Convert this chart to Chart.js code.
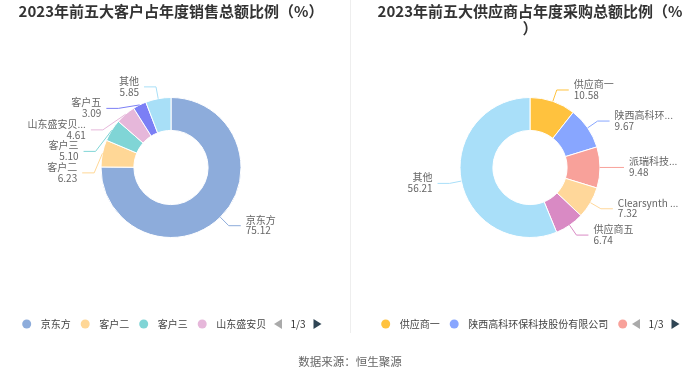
<!DOCTYPE html>
<html><head><meta charset="utf-8">
<script src="https://cdn.jsdelivr.net/npm/chart.js@4.4.1/dist/chart.umd.min.js"></script>
<style>
html,body{margin:0;padding:0;background:#fff;}
#wrap{position:relative;width:700px;height:377px;overflow:hidden;background:#fff;}
#c1{position:absolute;left:0;top:0;}
#c2{position:absolute;left:360px;top:0;}
#sep{position:absolute;left:350px;top:0;width:1px;height:333px;background:#eeeeee;}
#src{position:absolute;left:0;width:700px;top:353px;text-align:center;font-size:11.5px;line-height:16px;font-family:"Noto Sans CJK SC","Noto Sans",sans-serif;color:#666;}
</style></head>
<body>
<div id="wrap">
<canvas id="c1" width="342" height="377"></canvas>
<div id="sep"></div>
<canvas id="c2" width="340" height="377"></canvas>
<div id="src">数据来源：恒生聚源</div>
</div>
<script>
// ---------- data ----------
const customerTitle = ['2023年前五大客户占年度销售总额比例（%）'];
const customerLabels = ['京东方', '客户二', '客户三', '山东盛安贝...', '客户五', '其他'];
const customerValues = [75.12, 6.23, 5.10, 4.61, 3.09, 5.85];
const customerColors = ['#8dacdb', '#ffd796', '#80d5d6', '#e6b7da', '#7b7ff5', '#a8dff7'];

const supplierTitle = ['2023年前五大供应商占年度采购总额比例（%', '）'];
const supplierLabels = ['供应商一', '陕西高科环保科技股份有限公司', '派瑞科技...', 'Clearsynth ...', '供应商五', '其他'];
const supplierValues = [10.58, 9.67, 9.48, 7.32, 6.74, 56.21];
const supplierColors = ['#ffc23e', '#88a6ff', '#f8a19a', '#ffd79a', '#d98ac4', '#a9dff9'];

const pagerText = '1/3';

// ---------- styles ----------
const FONT = '"Noto Sans CJK SC","Noto Sans",sans-serif';
const LEN1 = 12, LEN2 = 12, GAP = 5, LINE_H = 10.75;

function fitText(ctx, text, maxW) {
  if (ctx.measureText(text).width <= maxW) return text;
  let t = text.replace(/\.\.\.$/, '');
  while (t.length > 1 && ctx.measureText(t + '...').width > maxW) t = t.slice(0, -1);
  return t + '...';
}

const piePlugin = {
  id: 'pieDecor',
  afterDatasetsDraw(chart, args, opts) {
    const ctx = chart.ctx;
    const W = chart.width;
    const meta = chart.getDatasetMeta(0);
    const ds = chart.data.datasets[0];
    const labels = chart.data.labels;
    const items = meta.data.map((arc, i) => {
      const p = arc.getProps(['x', 'y', 'startAngle', 'endAngle', 'outerRadius'], true);
      const mid = (p.startAngle + p.endAngle) / 2;
      const c = Math.cos(mid), s = Math.sin(mid);
      const r = p.outerRadius;
      const dir = c < 0 ? -1 : 1;
      const x2 = p.x + (r + LEN1) * c, y2 = p.y + (r + LEN1) * s;
      const x3 = x2 + dir * LEN2;
      return { i, cx: p.x, cy: p.y, r, dir,
        x1: p.x + r * c, y1: p.y + r * s, x2, y2,
        lx: x3 + dir * GAP, ly: y2 };
    });
    // overlap avoidance per side (push downward)
    [-1, 1].forEach(side => {
      const list = items.filter(d => d.dir === side).sort((a, b) => a.ly - b.ly);
      let adjusted = false;
      for (let k = 1; k < list.length; k++) {
        if (list[k].ly < list[k - 1].ly + 2 * LINE_H) {
          list[k].ly = list[k - 1].ly + 2 * LINE_H;
          adjusted = true;
        }
      }
      if (adjusted) {
        const semis = [{ list: [], maxY: 0, rB: 0 }, { list: [], maxY: 0, rB: 0 }];
        list.forEach(it => {
          const semi = it.ly > it.cy ? semis[1] : semis[0];
          const dy = Math.abs(it.ly - it.cy);
          if (dy >= semi.maxY) {
            const dx = it.lx - it.cx - LEN2 * side;
            const rA = it.r + LEN1;
            semi.rB = Math.abs(dx) < rA ? Math.sqrt(dy * dy / (1 - dx * dx / rA / rA)) : rA;
            semi.maxY = dy;
          }
          semi.list.push(it);
        });
        semis.forEach(semi => {
          semi.list.forEach(it => {
            const dy = Math.abs(it.ly - it.cy);
            const rA = it.r + LEN1;
            const dx = Math.sqrt(Math.max(0, 1 - dy * dy / (semi.rB * semi.rB)) * rA * rA);
            it.lx = it.cx + (dx + LEN2) * side;
          });
        });
      }
    });
    ctx.save();
    ctx.font = '10px ' + FONT;
    ctx.textBaseline = 'middle';
    items.forEach(it => {
      const color = ds.backgroundColor[it.i];
      const p2x = it.lx - it.dir * GAP;
      const p1x = p2x - it.dir * LEN2;
      ctx.strokeStyle = color;
      ctx.lineWidth = 1;
      ctx.beginPath();
      ctx.moveTo(it.x1, it.y1);
      ctx.lineTo(p1x, it.ly);
      ctx.lineTo(p2x, it.ly);
      ctx.stroke();
      ctx.fillStyle = '#666';
      ctx.textAlign = it.dir < 0 ? 'right' : 'left';
      const maxW = it.dir < 0 ? it.lx - 20 : (W - 20) - it.lx;
      const name = fitText(ctx, labels[it.i], maxW);
      ctx.fillText(name, it.lx, it.ly - LINE_H / 2 - 0.5);
      ctx.fillText(ds.data[it.i].toFixed(2), it.lx, it.ly + LINE_H / 2 - 0.5);
    });
    ctx.restore();
  },
  afterDraw(chart, args, opts) {
    const ctx = chart.ctx;
    const W = chart.width;
    // title
    ctx.save();
    ctx.font = 'bold 15px ' + FONT;
    ctx.fillStyle = '#333';
    ctx.textAlign = 'center';
    ctx.textBaseline = 'middle';
    opts.title.forEach((line, k) => ctx.fillText(line, W / 2, 11 + k * 17));
    ctx.restore();
    // legend (paged)
    const ds = chart.data.datasets[0];
    const labels = chart.data.labels;
    const LY = 324;
    const textClip = W - 76;
    const iconLimit = W - 71;
    ctx.save();
    ctx.font = '10px ' + FONT;
    ctx.textBaseline = 'middle';
    ctx.textAlign = 'left';
    let x = opts.legendStart;
    for (let i = 0; i < labels.length; i++) {
      if (x + 4.5 > iconLimit) break;
      ctx.fillStyle = ds.backgroundColor[i];
      ctx.beginPath();
      ctx.arc(x, LY, 4.5, 0, Math.PI * 2);
      ctx.fill();
      const tw = ctx.measureText(labels[i]).width;
      ctx.save();
      ctx.beginPath();
      ctx.rect(0, 0, textClip, chart.height);
      ctx.clip();
      ctx.fillStyle = '#444';
      ctx.fillText(labels[i], x + 14, LY);
      ctx.restore();
      x = x + 14 + tw + 14.5;
    }
    ctx.restore();
    // pager
    ctx.save();
    ctx.fillStyle = '#aaaaaa';
    ctx.beginPath();
    ctx.moveTo(W - 68, LY);
    ctx.lineTo(W - 60, LY - 5);
    ctx.lineTo(W - 60, LY + 5);
    ctx.closePath();
    ctx.fill();
    ctx.fillStyle = '#333';
    ctx.font = '10px ' + FONT;
    ctx.textAlign = 'center';
    ctx.textBaseline = 'middle';
    ctx.fillText(pagerText, W - 44, LY);
    ctx.fillStyle = '#2f4554';
    ctx.beginPath();
    ctx.moveTo(W - 28.5, LY - 5);
    ctx.lineTo(W - 20.5, LY);
    ctx.lineTo(W - 28.5, LY + 5);
    ctx.closePath();
    ctx.fill();
    ctx.restore();
  }
};

function makeChart(id, labels, values, colors, title, legendStart) {
  return new Chart(document.getElementById(id), {
    type: 'doughnut',
    data: {
      labels: labels,
      datasets: [{ data: values, backgroundColor: colors, borderColor: '#ffffff', borderWidth: 1 }]
    },
    options: {
      responsive: false,
      animation: false,
      devicePixelRatio: 1,
      events: [],
      radius: 70,
      cutout: '53%',
      layout: { padding: { top: 0, bottom: 42, left: 0, right: 0 } },
      plugins: {
        legend: { display: false },
        tooltip: { enabled: false },
        title: { display: false },
        pieDecor: { title: title, legendStart: legendStart }
      }
    },
    plugins: [piePlugin]
  });
}

makeChart('c1', customerLabels, customerValues, customerColors, customerTitle, 26.7);
makeChart('c2', supplierLabels, supplierValues, supplierColors, supplierTitle, 25.7);
</script>
</body></html>
